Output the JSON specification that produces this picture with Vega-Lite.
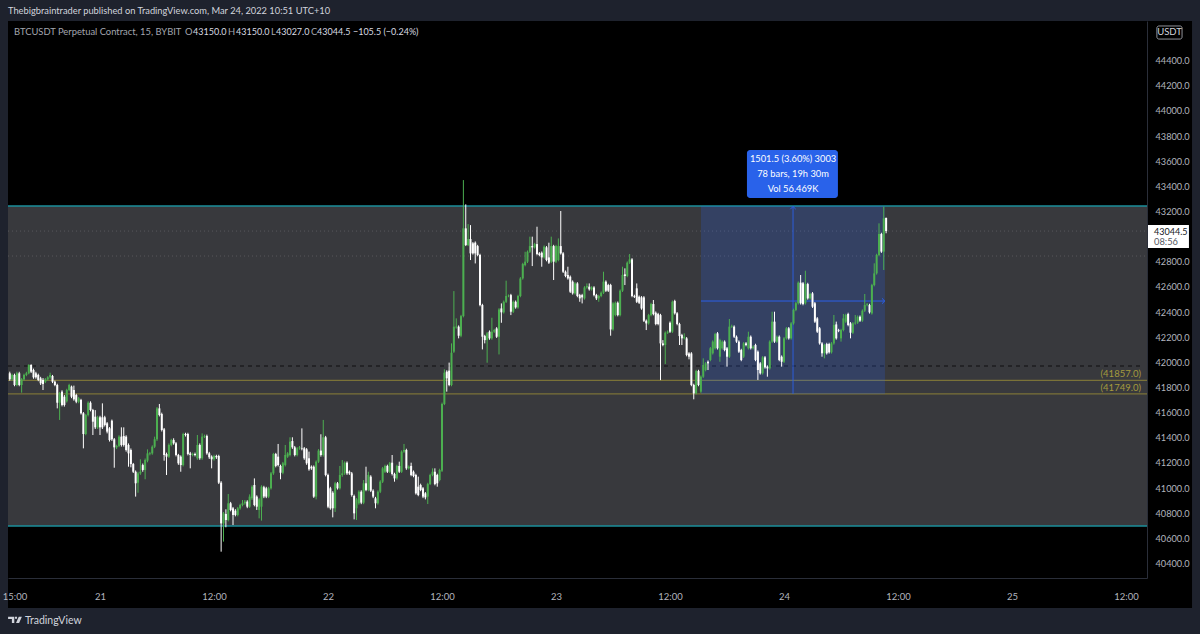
{
  "$schema": "https://vega.github.io/schema/vega-lite/v6.json",
  "width": 1139,
  "height": 557,
  "autosize": "none",
  "padding": {"left": 8, "top": 21, "right": 53, "bottom": 56},
  "background": "#1e222d",
  "title": {"text": "Thebigbraintrader published on TradingView.com, Mar 24, 2022 10:51 UTC+10", "anchor": "start", "frame": "group", "offset": 5, "fontSize": 9.3, "fontWeight": "normal", "color": "#d1d4dc"},
  "config": {"font": "Lato", "view": {"stroke": null}},
  "datasets": {
    "candles": [
      {"i":-38,"o":41913,"h":41926,"l":41854,"c":41865},{"i":-37,"o":41865,"h":41910,"l":41855,"c":41900},{"i":-36,"o":41900,"h":41910,"l":41810,"c":41820},{"i":-35,"o":41820,"h":41926,"l":41810,"c":41913},
      {"i":-34,"o":41913,"h":41925,"l":41810,"c":41820},{"i":-33,"o":41820,"h":41875,"l":41759,"c":41865},{"i":-32,"o":41865,"h":41910,"l":41855,"c":41900},{"i":-31,"o":41900,"h":41925,"l":41890,"c":41913},
      {"i":-30,"o":41913,"h":41985,"l":41905,"c":41979},{"i":-29,"o":41979,"h":41985,"l":41915,"c":41926},{"i":-28,"o":41939,"h":41950,"l":41870,"c":41881},{"i":-27,"o":41913,"h":41925,"l":41870,"c":41881},
      {"i":-26,"o":41900,"h":41910,"l":41850,"c":41860},{"i":-25,"o":41873,"h":41885,"l":41820,"c":41833},{"i":-24,"o":41860,"h":41875,"l":41780,"c":41828},{"i":-23,"o":41846,"h":41875,"l":41835,"c":41865},
      {"i":-22,"o":41865,"h":41890,"l":41855,"c":41881},{"i":-21,"o":41881,"h":41918,"l":41870,"c":41900},{"i":-20,"o":41892,"h":41900,"l":41835,"c":41846},{"i":-19,"o":41846,"h":41855,"l":41810,"c":41820},
      {"i":-18,"o":41820,"h":41830,"l":41634,"c":41679},{"i":-17,"o":41679,"h":41765,"l":41542,"c":41754},{"i":-16,"o":41767,"h":41778,"l":41650,"c":41661},{"i":-15,"o":41727,"h":41740,"l":41648,"c":41661},
      {"i":-14,"o":41690,"h":41790,"l":41680,"c":41780},{"i":-13,"o":41780,"h":41830,"l":41770,"c":41820},{"i":-12,"o":41807,"h":41815,"l":41715,"c":41727},{"i":-11,"o":41780,"h":41815,"l":41695,"c":41706},
      {"i":-10,"o":41740,"h":41750,"l":41675,"c":41687},{"i":-9,"o":41687,"h":41725,"l":41675,"c":41714},{"i":-8,"o":41701,"h":41710,"l":41585,"c":41595},{"i":-7,"o":41595,"h":41605,"l":41316,"c":41430},
      {"i":-6,"o":41430,"h":41590,"l":41420,"c":41581},{"i":-5,"o":41581,"h":41690,"l":41570,"c":41679},{"i":-4,"o":41679,"h":41690,"l":41610,"c":41621},{"i":-3,"o":41621,"h":41630,"l":41422,"c":41528},
      {"i":-2,"o":41568,"h":41620,"l":41470,"c":41483},{"i":-1,"o":41483,"h":41575,"l":41470,"c":41563},{"i":0,"o":41563,"h":41575,"l":41422,"c":41483},{"i":1,"o":41563,"h":41674,"l":41470,"c":41483},
      {"i":2,"o":41563,"h":41575,"l":41490,"c":41502},{"i":3,"o":41515,"h":41525,"l":41435,"c":41449},{"i":4,"o":41475,"h":41485,"l":41370,"c":41382},{"i":5,"o":41536,"h":41545,"l":41375,"c":41388},
      {"i":6,"o":41388,"h":41398,"l":41162,"c":41324},{"i":7,"o":41324,"h":41345,"l":41310,"c":41335},{"i":8,"o":41335,"h":41420,"l":41325,"c":41409},{"i":9,"o":41409,"h":41483,"l":41330,"c":41343},
      {"i":10,"o":41414,"h":41483,"l":41330,"c":41343},{"i":11,"o":41409,"h":41420,"l":41290,"c":41303},{"i":12,"o":41343,"h":41355,"l":41170,"c":41276},{"i":13,"o":41303,"h":41315,"l":41165,"c":41191},
      {"i":14,"o":41191,"h":41200,"l":41120,"c":41130},{"i":15,"o":41130,"h":41140,"l":40932,"c":41038},{"i":16,"o":41043,"h":41130,"l":40963,"c":41117},{"i":17,"o":41117,"h":41229,"l":41105,"c":41130},
      {"i":18,"o":41183,"h":41195,"l":41130,"c":41144},{"i":19,"o":41144,"h":41235,"l":41070,"c":41223},{"i":20,"o":41218,"h":41308,"l":41205,"c":41276},{"i":21,"o":41271,"h":41288,"l":41260,"c":41276},
      {"i":22,"o":41276,"h":41340,"l":41265,"c":41329},{"i":23,"o":41329,"h":41409,"l":41318,"c":41388},{"i":24,"o":41388,"h":41645,"l":41375,"c":41634},{"i":25,"o":41634,"h":41669,"l":41570,"c":41581},
      {"i":26,"o":41589,"h":41600,"l":41450,"c":41462},{"i":27,"o":41467,"h":41478,"l":41218,"c":41263},{"i":28,"o":41271,"h":41282,"l":41104,"c":41250},{"i":29,"o":41250,"h":41355,"l":41240,"c":41343},
      {"i":30,"o":41343,"h":41392,"l":41332,"c":41382},{"i":31,"o":41382,"h":41396,"l":41345,"c":41356},{"i":32,"o":41356,"h":41366,"l":41252,"c":41263},{"i":33,"o":41263,"h":41272,"l":41185,"c":41197},
      {"i":34,"o":41250,"h":41260,"l":41130,"c":41183},{"i":35,"o":41183,"h":41440,"l":41172,"c":41430},{"i":36,"o":41430,"h":41440,"l":41410,"c":41422},{"i":37,"o":41430,"h":41440,"l":41260,"c":41271},
      {"i":38,"o":41276,"h":41288,"l":41157,"c":41263},{"i":39,"o":41263,"h":41282,"l":41252,"c":41271},{"i":40,"o":41271,"h":41282,"l":41252,"c":41263},{"i":41,"o":41237,"h":41422,"l":41225,"c":41343},
      {"i":42,"o":41343,"h":41355,"l":41225,"c":41237},{"i":43,"o":41237,"h":41435,"l":41225,"c":41409},{"i":44,"o":41409,"h":41425,"l":41398,"c":41414},{"i":45,"o":41414,"h":41425,"l":41265,"c":41276},
      {"i":46,"o":41276,"h":41288,"l":41232,"c":41245},{"i":47,"o":41250,"h":41260,"l":41157,"c":41229},{"i":48,"o":41229,"h":41265,"l":41218,"c":41255},{"i":49,"o":41255,"h":41265,"l":41232,"c":41245},
      {"i":50,"o":41255,"h":41265,"l":41032,"c":41043},{"i":51,"o":41043,"h":41055,"l":40494,"c":40719},{"i":52,"o":40719,"h":40810,"l":40574,"c":40799},{"i":53,"o":40794,"h":40831,"l":40688,"c":40746},
      {"i":54,"o":40746,"h":40953,"l":40735,"c":40879},{"i":55,"o":40879,"h":40890,"l":40815,"c":40826},{"i":56,"o":40839,"h":40850,"l":40706,"c":40786},{"i":57,"o":40820,"h":40832,"l":40775,"c":40786},
      {"i":58,"o":40786,"h":40850,"l":40775,"c":40839},{"i":59,"o":40839,"h":40875,"l":40828,"c":40865},{"i":60,"o":40865,"h":40905,"l":40855,"c":40879},{"i":61,"o":40879,"h":40905,"l":40868,"c":40892},
      {"i":62,"o":40892,"h":40903,"l":40840,"c":40852},{"i":63,"o":40852,"h":40950,"l":40842,"c":40932},{"i":64,"o":40918,"h":41022,"l":40905,"c":41011},{"i":65,"o":41024,"h":41077,"l":40855,"c":40865},
      {"i":66,"o":40932,"h":40942,"l":40826,"c":40852},{"i":67,"o":40826,"h":40920,"l":40759,"c":40910},{"i":68,"o":40852,"h":41022,"l":40741,"c":41011},{"i":69,"o":41006,"h":41018,"l":40920,"c":40932},
      {"i":70,"o":40998,"h":41010,"l":40920,"c":40932},{"i":71,"o":40932,"h":41010,"l":40920,"c":40998},{"i":72,"o":40998,"h":41128,"l":40988,"c":41117},{"i":73,"o":41117,"h":41280,"l":41105,"c":41271},
      {"i":74,"o":41271,"h":41280,"l":41165,"c":41176},{"i":75,"o":41250,"h":41351,"l":41172,"c":41183},{"i":76,"o":41176,"h":41186,"l":41070,"c":41122},{"i":77,"o":41122,"h":41208,"l":41110,"c":41197},
      {"i":78,"o":41183,"h":41343,"l":41172,"c":41263},{"i":79,"o":41250,"h":41286,"l":41240,"c":41276},{"i":80,"o":41263,"h":41404,"l":41252,"c":41369},{"i":81,"o":41374,"h":41404,"l":41312,"c":41324},
      {"i":82,"o":41324,"h":41335,"l":41252,"c":41263},{"i":83,"o":41263,"h":41326,"l":41252,"c":41316},{"i":84,"o":41316,"h":41335,"l":41305,"c":41324},{"i":85,"o":41316,"h":41475,"l":41300,"c":41312},
      {"i":86,"o":41316,"h":41326,"l":41225,"c":41237},{"i":87,"o":41308,"h":41318,"l":41185,"c":41197},{"i":88,"o":41237,"h":41290,"l":41138,"c":41149},{"i":89,"o":41170,"h":41180,"l":41145,"c":41157},
      {"i":90,"o":41170,"h":41180,"l":40922,"c":40932},{"i":91,"o":40932,"h":41220,"l":40910,"c":41210},{"i":92,"o":41210,"h":41310,"l":41200,"c":41298},{"i":93,"o":41298,"h":41428,"l":41250,"c":41263},
      {"i":94,"o":41263,"h":41542,"l":41250,"c":41404},{"i":95,"o":41404,"h":41415,"l":41093,"c":41104},{"i":96,"o":41104,"h":41115,"l":40840,"c":40852},{"i":97,"o":40998,"h":41010,"l":40828,"c":40839},
      {"i":98,"o":40963,"h":40975,"l":40767,"c":40839},{"i":99,"o":40839,"h":41050,"l":40810,"c":41038},{"i":100,"o":41038,"h":41048,"l":40988,"c":40998},{"i":101,"o":40998,"h":41176,"l":40988,"c":41104},
      {"i":102,"o":41104,"h":41223,"l":41090,"c":41117},{"i":103,"o":41117,"h":41212,"l":41105,"c":41202},{"i":104,"o":41202,"h":41212,"l":41105,"c":41117},{"i":105,"o":41130,"h":41140,"l":41105,"c":41117},
      {"i":106,"o":41117,"h":41128,"l":40932,"c":40945},{"i":107,"o":40937,"h":40948,"l":40751,"c":40799},{"i":108,"o":40839,"h":40920,"l":40746,"c":40910},{"i":109,"o":40879,"h":40982,"l":40868,"c":40971},
      {"i":110,"o":40971,"h":40982,"l":40872,"c":40884},{"i":111,"o":40884,"h":41064,"l":40872,"c":41038},{"i":112,"o":41038,"h":41170,"l":40975,"c":40985},{"i":113,"o":40985,"h":41130,"l":40975,"c":41104},
      {"i":114,"o":41091,"h":41102,"l":40968,"c":40979},{"i":115,"o":40979,"h":40990,"l":40920,"c":40932},{"i":116,"o":40918,"h":40930,"l":40839,"c":40879},{"i":117,"o":40879,"h":40982,"l":40868,"c":40971},
      {"i":118,"o":40971,"h":41062,"l":40960,"c":41051},{"i":119,"o":41051,"h":41168,"l":41040,"c":41157},{"i":120,"o":41130,"h":41186,"l":41120,"c":41176},{"i":121,"o":41176,"h":41186,"l":41120,"c":41130},
      {"i":122,"o":41130,"h":41208,"l":41120,"c":41197},{"i":123,"o":41202,"h":41263,"l":41100,"c":41112},{"i":124,"o":41112,"h":41122,"l":41051,"c":41077},{"i":125,"o":41077,"h":41186,"l":41066,"c":41176},
      {"i":126,"o":41176,"h":41210,"l":41120,"c":41130},{"i":127,"o":41130,"h":41300,"l":41120,"c":41290},{"i":128,"o":41290,"h":41351,"l":41280,"c":41303},{"i":129,"o":41303,"h":41313,"l":41145,"c":41157},
      {"i":130,"o":41157,"h":41180,"l":41147,"c":41170},{"i":131,"o":41176,"h":41202,"l":41094,"c":41104},{"i":132,"o":41130,"h":41140,"l":41086,"c":41096},{"i":133,"o":41104,"h":41114,"l":40948,"c":40958},
      {"i":134,"o":41011,"h":41091,"l":40935,"c":40945},{"i":135,"o":41024,"h":41035,"l":40975,"c":40985},{"i":136,"o":40998,"h":41008,"l":40920,"c":40932},{"i":137,"o":40958,"h":40968,"l":40910,"c":40926},
      {"i":138,"o":40932,"h":41042,"l":40873,"c":41032},{"i":139,"o":41032,"h":41114,"l":41024,"c":41104},{"i":140,"o":41104,"h":41157,"l":41094,"c":41130},{"i":141,"o":41130,"h":41157,"l":41022,"c":41032},
      {"i":142,"o":41104,"h":41114,"l":41011,"c":41038},{"i":143,"o":41064,"h":41154,"l":41054,"c":41144},{"i":144,"o":41138,"h":41680,"l":41128,"c":41669},{"i":145,"o":41669,"h":41945,"l":41660,"c":41918},
      {"i":146,"o":41926,"h":41937,"l":41767,"c":41873},{"i":147,"o":41934,"h":41998,"l":41810,"c":41820},{"i":148,"o":41820,"h":42151,"l":41810,"c":42077},{"i":149,"o":42085,"h":42567,"l":42075,"c":42284},
      {"i":150,"o":42278,"h":42350,"l":42268,"c":42284},{"i":151,"o":42284,"h":42294,"l":42191,"c":42212},{"i":152,"o":42212,"h":42378,"l":42200,"c":42368},{"i":153,"o":42368,"h":43450,"l":42358,"c":43066},
      {"i":154,"o":43066,"h":43257,"l":42925,"c":42933},{"i":155,"o":42933,"h":43100,"l":42925,"c":42981},{"i":156,"o":42981,"h":43092,"l":42814,"c":42867},{"i":157,"o":42947,"h":42957,"l":42857,"c":42867},
      {"i":158,"o":42952,"h":42962,"l":42787,"c":42867},{"i":159,"o":42925,"h":42935,"l":42844,"c":42854},{"i":160,"o":42854,"h":42864,"l":42446,"c":42456},{"i":161,"o":42456,"h":42466,"l":42103,"c":42204},
      {"i":162,"o":42209,"h":42219,"l":42151,"c":42177},{"i":163,"o":42177,"h":42241,"l":41997,"c":42231},{"i":164,"o":42244,"h":42254,"l":42180,"c":42191},{"i":165,"o":42191,"h":42355,"l":42180,"c":42244},
      {"i":166,"o":42244,"h":42267,"l":42234,"c":42257},{"i":167,"o":42270,"h":42280,"l":42194,"c":42204},{"i":168,"o":42204,"h":42431,"l":42063,"c":42421},{"i":169,"o":42429,"h":42469,"l":42315,"c":42398},
      {"i":170,"o":42398,"h":42492,"l":42388,"c":42482},{"i":171,"o":42482,"h":42650,"l":42472,"c":42528},{"i":172,"o":42528,"h":42540,"l":42518,"c":42530},{"i":173,"o":42535,"h":42545,"l":42376,"c":42403},
      {"i":174,"o":42403,"h":42492,"l":42393,"c":42482},{"i":175,"o":42482,"h":42492,"l":42427,"c":42437},{"i":176,"o":42437,"h":42538,"l":42427,"c":42528},{"i":177,"o":42528,"h":42678,"l":42518,"c":42668},
      {"i":178,"o":42668,"h":42792,"l":42658,"c":42782},{"i":179,"o":42774,"h":42880,"l":42764,"c":42801},{"i":180,"o":42801,"h":42890,"l":42790,"c":42880},{"i":181,"o":42880,"h":43000,"l":42870,"c":42925},
      {"i":182,"o":42925,"h":43000,"l":42766,"c":42915},{"i":183,"o":42915,"h":42951,"l":42905,"c":42941},{"i":184,"o":42941,"h":43079,"l":42852,"c":42862},{"i":185,"o":42867,"h":42877,"l":42844,"c":42854},
      {"i":186,"o":42872,"h":42882,"l":42761,"c":42835},{"i":187,"o":42835,"h":42930,"l":42825,"c":42920},{"i":188,"o":42915,"h":42925,"l":42804,"c":42814},{"i":189,"o":42835,"h":42952,"l":42783,"c":42793},
      {"i":190,"o":42801,"h":43000,"l":42790,"c":42925},{"i":191,"o":42925,"h":42935,"l":42655,"c":42801},{"i":192,"o":42801,"h":42935,"l":42790,"c":42925},{"i":193,"o":42814,"h":42986,"l":42804,"c":42925},
      {"i":194,"o":42925,"h":43204,"l":42857,"c":42867},{"i":195,"o":42867,"h":42877,"l":42711,"c":42721},{"i":196,"o":42721,"h":42731,"l":42677,"c":42687},{"i":197,"o":42695,"h":42761,"l":42658,"c":42668},
      {"i":198,"o":42681,"h":42691,"l":42552,"c":42562},{"i":199,"o":42642,"h":42652,"l":42539,"c":42549},{"i":200,"o":42549,"h":42638,"l":42539,"c":42628},{"i":201,"o":42628,"h":42638,"l":42518,"c":42528},
      {"i":202,"o":42535,"h":42545,"l":42482,"c":42509},{"i":203,"o":42535,"h":42545,"l":42469,"c":42517},{"i":204,"o":42509,"h":42606,"l":42499,"c":42596},{"i":205,"o":42596,"h":42628,"l":42586,"c":42607},
      {"i":206,"o":42602,"h":42628,"l":42571,"c":42581},{"i":207,"o":42581,"h":42606,"l":42571,"c":42596},{"i":208,"o":42596,"h":42606,"l":42525,"c":42535},{"i":209,"o":42535,"h":42545,"l":42496,"c":42509},
      {"i":210,"o":42509,"h":42538,"l":42482,"c":42528},{"i":211,"o":42528,"h":42564,"l":42518,"c":42554},{"i":212,"o":42554,"h":42721,"l":42544,"c":42642},{"i":213,"o":42642,"h":42652,"l":42560,"c":42570},
      {"i":214,"o":42615,"h":42625,"l":42560,"c":42570},{"i":215,"o":42615,"h":42625,"l":42212,"c":42262},{"i":216,"o":42262,"h":42479,"l":42252,"c":42469},{"i":217,"o":42376,"h":42484,"l":42366,"c":42474},
      {"i":218,"o":42474,"h":42484,"l":42366,"c":42376},{"i":219,"o":42376,"h":42580,"l":42366,"c":42570},{"i":220,"o":42570,"h":42761,"l":42560,"c":42695},{"i":221,"o":42700,"h":42748,"l":42615,"c":42687},
      {"i":222,"o":42687,"h":42803,"l":42677,"c":42793},{"i":223,"o":42793,"h":42862,"l":42783,"c":42819},{"i":224,"o":42819,"h":42829,"l":42518,"c":42528},{"i":225,"o":42528,"h":42538,"l":42512,"c":42522},
      {"i":226,"o":42589,"h":42628,"l":42472,"c":42482},{"i":227,"o":42522,"h":42532,"l":42464,"c":42474},{"i":228,"o":42517,"h":42527,"l":42419,"c":42429},{"i":229,"o":42517,"h":42527,"l":42321,"c":42331},
      {"i":230,"o":42331,"h":42341,"l":42257,"c":42310},{"i":231,"o":42310,"h":42386,"l":42300,"c":42376},{"i":232,"o":42376,"h":42474,"l":42366,"c":42464},{"i":233,"o":42464,"h":42496,"l":42374,"c":42384},
      {"i":234,"o":42395,"h":42405,"l":42295,"c":42305},{"i":235,"o":42384,"h":42394,"l":42295,"c":42305},{"i":236,"o":42376,"h":42386,"l":41859,"c":42151},{"i":237,"o":42151,"h":42177,"l":42128,"c":42138},
      {"i":238,"o":42138,"h":42246,"l":41987,"c":42236},{"i":239,"o":42236,"h":42254,"l":42226,"c":42244},{"i":240,"o":42315,"h":42325,"l":42234,"c":42244},{"i":241,"o":42244,"h":42492,"l":42234,"c":42482},
      {"i":242,"o":42488,"h":42498,"l":42380,"c":42390},{"i":243,"o":42390,"h":42400,"l":42295,"c":42305},{"i":244,"o":42305,"h":42315,"l":42138,"c":42209},{"i":245,"o":42217,"h":42227,"l":42138,"c":42191},
      {"i":246,"o":42191,"h":42231,"l":42181,"c":42204},{"i":247,"o":42191,"h":42201,"l":42048,"c":42058},{"i":248,"o":42071,"h":42081,"l":42024,"c":42045},{"i":249,"o":42071,"h":42081,"l":41810,"c":41820},
      {"i":250,"o":41820,"h":41830,"l":41706,"c":41753},{"i":251,"o":41753,"h":41941,"l":41745,"c":41931},{"i":252,"o":41931,"h":41941,"l":41810,"c":41820},{"i":253,"o":41767,"h":41896,"l":41757,"c":41886},
      {"i":254,"o":41886,"h":42032,"l":41876,"c":41979},{"i":255,"o":41939,"h":42002,"l":41929,"c":41992},{"i":256,"o":42005,"h":42015,"l":41939,"c":41992},{"i":257,"o":42019,"h":42122,"l":42009,"c":42112},
      {"i":258,"o":42072,"h":42175,"l":42062,"c":42165},{"i":259,"o":42112,"h":42235,"l":42102,"c":42225},{"i":260,"o":42231,"h":42241,"l":42102,"c":42112},{"i":261,"o":42045,"h":42188,"l":42005,"c":42178},
      {"i":262,"o":42112,"h":42175,"l":42102,"c":42165},{"i":263,"o":42165,"h":42175,"l":42088,"c":42098},{"i":264,"o":42112,"h":42122,"l":41966,"c":42045},{"i":265,"o":42045,"h":42345,"l":42035,"c":42284},
      {"i":266,"o":42284,"h":42300,"l":42274,"c":42289},{"i":267,"o":42284,"h":42294,"l":42194,"c":42204},{"i":268,"o":42204,"h":42214,"l":42155,"c":42165},{"i":269,"o":42165,"h":42175,"l":42075,"c":42085},
      {"i":270,"o":42098,"h":42108,"l":42009,"c":42019},{"i":271,"o":42045,"h":42161,"l":42035,"c":42151},{"i":272,"o":42151,"h":42161,"l":42128,"c":42138},{"i":273,"o":42112,"h":42244,"l":42102,"c":42204},
      {"i":274,"o":42204,"h":42214,"l":42102,"c":42112},{"i":275,"o":42112,"h":42135,"l":42102,"c":42125},{"i":276,"o":42138,"h":42148,"l":42009,"c":42019},{"i":277,"o":42085,"h":42095,"l":41860,"c":41939},
      {"i":278,"o":41992,"h":42002,"l":41903,"c":41913},{"i":279,"o":41913,"h":42050,"l":41903,"c":42040},{"i":280,"o":42040,"h":42050,"l":41950,"c":41960},{"i":281,"o":41966,"h":41976,"l":41886,"c":41952},
      {"i":282,"o":41952,"h":42175,"l":41942,"c":42165},{"i":283,"o":42165,"h":42403,"l":42155,"c":42324},{"i":284,"o":42324,"h":42403,"l":42155,"c":42165},{"i":285,"o":42165,"h":42214,"l":42155,"c":42204},
      {"i":286,"o":42204,"h":42214,"l":42009,"c":42019},{"i":287,"o":42045,"h":42055,"l":41966,"c":42005},{"i":288,"o":42005,"h":42201,"l":41995,"c":42191},{"i":289,"o":42191,"h":42281,"l":42181,"c":42271},
      {"i":290,"o":42271,"h":42281,"l":42181,"c":42191},{"i":291,"o":42191,"h":42320,"l":42181,"c":42310},{"i":292,"o":42310,"h":42427,"l":42300,"c":42417},{"i":293,"o":42417,"h":42480,"l":42407,"c":42470},
      {"i":294,"o":42470,"h":42644,"l":42460,"c":42634},{"i":295,"o":42634,"h":42695,"l":42460,"c":42470},{"i":296,"o":42629,"h":42639,"l":42454,"c":42464},{"i":297,"o":42470,"h":42729,"l":42460,"c":42623},
      {"i":298,"o":42623,"h":42633,"l":42499,"c":42509},{"i":299,"o":42509,"h":42554,"l":42499,"c":42544},{"i":300,"o":42549,"h":42559,"l":42433,"c":42443},{"i":301,"o":42470,"h":42480,"l":42314,"c":42324},
      {"i":302,"o":42350,"h":42360,"l":42234,"c":42244},{"i":303,"o":42271,"h":42281,"l":42141,"c":42151},{"i":304,"o":42151,"h":42161,"l":42045,"c":42072},{"i":305,"o":42072,"h":42148,"l":42032,"c":42138},
      {"i":306,"o":42146,"h":42156,"l":42062,"c":42072},{"i":307,"o":42146,"h":42156,"l":42070,"c":42080},{"i":308,"o":42080,"h":42161,"l":42070,"c":42151},{"i":309,"o":42151,"h":42377,"l":42141,"c":42297},
      {"i":310,"o":42302,"h":42324,"l":42181,"c":42191},{"i":311,"o":42257,"h":42267,"l":42240,"c":42252},{"i":312,"o":42191,"h":42267,"l":42165,"c":42257},{"i":313,"o":42257,"h":42385,"l":42247,"c":42350},
      {"i":314,"o":42324,"h":42387,"l":42314,"c":42377},{"i":315,"o":42385,"h":42395,"l":42287,"c":42297},{"i":316,"o":42310,"h":42320,"l":42191,"c":42236},{"i":317,"o":42236,"h":42320,"l":42226,"c":42310},
      {"i":318,"o":42310,"h":42377,"l":42300,"c":42316},{"i":319,"o":42316,"h":42373,"l":42306,"c":42363},{"i":320,"o":42363,"h":42373,"l":42322,"c":42332},{"i":321,"o":42332,"h":42421,"l":42322,"c":42411},
      {"i":322,"o":42411,"h":42544,"l":42401,"c":42456},{"i":323,"o":42456,"h":42472,"l":42446,"c":42462},{"i":324,"o":42456,"h":42466,"l":42388,"c":42398},{"i":325,"o":42390,"h":42625,"l":42380,"c":42615},
      {"i":326,"o":42615,"h":42788,"l":42605,"c":42708},{"i":327,"o":42708,"h":42864,"l":42698,"c":42854},{"i":328,"o":42854,"h":43106,"l":42844,"c":43021},{"i":329,"o":43021,"h":43031,"l":42871,"c":42881},
      {"i":330,"o":42881,"h":43239,"l":42735,"c":43146},{"i":331,"o":43150,"h":43150,"l":43027,"c":43044.5}
    ],
    "panels": [
      {"name": "panel", "i": -38.74, "i1": 459.8, "p": 44715.6, "p1": 40046},
      {"name": "range", "i": -38.74, "i1": 440.84, "p": 43244, "p1": 40698}
    ],
    "levels": [
      {"name": "range", "i": -38.74, "i1": 440.84, "p": 43244},
      {"name": "range", "i": -38.74, "i1": 440.84, "p": 40698},
      {"name": "fib", "i": -38.74, "i1": 440.84, "p": 41857},
      {"name": "fib", "i": -38.74, "i1": 440.84, "p": 41749},
      {"name": "mid", "i": -38.74, "i1": 438, "p": 41971},
      {"name": "last", "i": -38.74, "i1": 440.84, "p": 43044.5},
      {"name": "prior", "i": -38.74, "i1": 440.84, "p": 42846}
    ],
    "measure": [{"i": 253.05, "i1": 330.5, "p": 43244, "p1": 41749}],
    "measureMid": [{"i": 253.05, "i1": 330.5, "p": 42488}],
    "measureCross": [{"i": 291.8, "p": 43244, "p1": 41749}],
    "arrows": [
      {"dir": "up", "i": 291.8, "p": 43240},
      {"dir": "right", "i": 330.4, "p": 42488}
    ],
    "tooltip": [{"i": 272.4, "i1": 310.7, "p": 43689, "p1": 43307}],
    "tooltipText": [
      {"i": 291.8, "p": 43618, "text": "1501.5 (3.60%) 3003"},
      {"i": 291.8, "p": 43498, "text": "78 bars, 19h 30m"},
      {"i": 291.8, "p": 43379, "text": "Vol 56.469K"}
    ],
    "notes": [
      {"kind": "muted", "i": -36.2, "p": 44632, "text": "BTCUSDT Perpetual Contract, 15, BYBIT"},
      {"kind": "muted", "i": 35.8, "p": 44632, "text": "O"},
      {"kind": "bright", "i": 39.2, "p": 44632, "text": "43150.0"},
      {"kind": "muted", "i": 53.9, "p": 44632, "text": "H"},
      {"kind": "bright", "i": 57.3, "p": 44632, "text": "43150.0"},
      {"kind": "muted", "i": 72, "p": 44632, "text": "L"},
      {"kind": "bright", "i": 74.1, "p": 44632, "text": "43027.0"},
      {"kind": "muted", "i": 88.8, "p": 44632, "text": "C"},
      {"kind": "bright", "i": 91.4, "p": 44632, "text": "43044.5"},
      {"kind": "bright", "i": 106.5, "p": 44632, "text": "−105.5 (−0.24%)"},
      {"kind": "tag", "i": 443.8, "p": 43037, "text": "43044.5"},
      {"kind": "count", "i": 443.8, "p": 42957, "text": "08:56"},
      {"kind": "brand", "i": -31.6, "p": 39943, "text": "TradingView"}
    ],
    "levelText": [
      {"i": 438.3, "p": 41907, "text": "(41857.0)"},
      {"i": 438.3, "p": 41796, "text": "(41749.0)"}
    ],
    "unit": [{"i": 450.3, "p": 44628, "text": "USDT", "i1": 445, "i2": 455.6, "p1": 44676, "p2": 44572}],
    "lastTag": [{"i": 440.84, "i1": 458.5, "p": 43093, "p1": 42910}],
    "logo": [{"i": -35.8, "p": 39955}]
  },
  "encoding": {
    "x": {
      "field": "i", "type": "quantitative", "title": null,
      "scale": {"domain": [-38.74, 440.84], "nice": false, "zero": false, "padding": 0},
      "axis": {
        "values": [-36, 0, 48, 96, 144, 192, 240, 288, 336, 384, 432],
        "labelExpr": "datum.value < 0 ? '15:00' : datum.value % 96 == 0 ? '' + (21 + datum.value / 96) : '12:00'",
        "ticks": false, "grid": false, "domainColor": "#2a2e39", "labelColor": "#b2b5be",
        "labelFontSize": 9.5, "labelPadding": 13, "zindex": 1, "labelFlush": false, "labelOverlap": false
      }
    },
    "y": {
      "field": "p", "type": "quantitative", "title": null,
      "scale": {"domain": [40284.6, 44715.6], "nice": false, "zero": false},
      "axis": {
        "orient": "right",
        "values": [40400, 40600, 40800, 41000, 41200, 41400, 41600, 41800, 42000, 42200, 42400, 42600, 42800, 43200, 43400, 43600, 43800, 44000, 44200, 44400],
        "format": ".1f",
        "ticks": false, "grid": false, "domainColor": "#2a2e39", "labelColor": "#b2b5be",
        "labelFontSize": 9.2, "labelPadding": 8, "zindex": 1, "labelOverlap": false
      }
    }
  },
  "resolve": {"scale": {"color": "independent"}},
  "layer": [
    {
      "data": {"name": "panels"},
      "mark": {"type": "rect", "clip": false},
      "encoding": {
        "x2": {"field": "i1"}, "y2": {"field": "p1"},
        "color": {"field": "name", "scale": {"domain": ["panel", "range"], "range": ["#000000", "#38393d"]}, "legend": null}
      }
    },
    {
      "data": {"name": "levels"},
      "mark": {"type": "rule"},
      "encoding": {
        "x2": {"field": "i1"},
        "color": {"field": "name", "scale": {"domain": ["range", "fib", "mid", "last", "prior"], "range": ["#1b8f9b", "#7a7238", "#0f0f10", "#57585c", "#57585c"]}, "legend": null},
        "strokeWidth": {"field": "name", "scale": {"type": "ordinal", "domain": ["range", "fib", "mid", "last", "prior"], "range": [1.4, 1.2, 1, 1, 1]}, "legend": null},
        "strokeDash": {"field": "name", "scale": {"domain": ["range", "fib", "mid", "last", "prior"], "range": [[1, 0], [1, 0], [4, 4], [1, 3], [1, 3]]}, "legend": null}
      }
    },
    {
      "data": {"name": "measure"},
      "mark": {"type": "rect", "color": "#2962ff", "opacity": 0.2},
      "encoding": {"x2": {"field": "i1"}, "y2": {"field": "p1"}}
    },
    {
      "data": {"name": "measureMid"},
      "mark": {"type": "rule", "color": "#2b5fe8", "strokeWidth": 1},
      "encoding": {"x2": {"field": "i1"}}
    },
    {
      "data": {"name": "measureCross"},
      "mark": {"type": "rule", "color": "#2b5fe8", "strokeWidth": 0.9},
      "encoding": {"y2": {"field": "p1"}}
    },
    {
      "data": {"name": "arrows"},
      "mark": {"type": "point", "filled": false, "color": "#2b5fe8", "strokeWidth": 1, "opacity": 1, "size": 30},
      "encoding": {
        "shape": {"field": "dir", "scale": {"domain": ["up", "right"], "range": ["M-1,1L0,0L1,1", "M-1,-1L0,0L-1,1"]}, "legend": null}
      }
    },
    {
      "data": {"name": "candles"},
      "mark": {"type": "rule", "strokeWidth": 1},
      "encoding": {
        "y": {"field": "l", "type": "quantitative", "title": null},
        "y2": {"field": "h"},
        "color": {"condition": {"test": "datum.c >= datum.o", "value": "#4caf50"}, "value": "#ffffff"}
      }
    },
    {
      "data": {"name": "candles"},
      "mark": {"type": "bar", "width": 2},
      "encoding": {
        "y": {"field": "o", "type": "quantitative", "title": null},
        "y2": {"field": "c"},
        "color": {"condition": {"test": "datum.c >= datum.o", "value": "#4caf50"}, "value": "#ffffff"}
      }
    },
    {
      "data": {"name": "tooltip"},
      "mark": {"type": "rect", "color": "#2962ea", "cornerRadius": 3},
      "encoding": {"x2": {"field": "i1"}, "y2": {"field": "p1"}}
    },
    {
      "data": {"name": "tooltipText"},
      "mark": {"type": "text", "color": "#ffffff", "fontSize": 9.3, "align": "center", "baseline": "middle"},
      "encoding": {"text": {"field": "text"}}
    },
    {
      "data": {"name": "levelText"},
      "mark": {"type": "text", "color": "#a59a3e", "fontSize": 9.5, "align": "right", "baseline": "middle"},
      "encoding": {"text": {"field": "text"}}
    },
    {
      "data": {"name": "lastTag"},
      "mark": {"type": "rect", "color": "#ffffff", "clip": false},
      "encoding": {"x2": {"field": "i1"}, "y2": {"field": "p1"}}
    },
    {
      "data": {"name": "unit"},
      "mark": {"type": "rect", "filled": false, "stroke": "#b2b5be", "strokeWidth": 0.8, "cornerRadius": 2, "clip": false},
      "encoding": {
        "x": {"field": "i1", "type": "quantitative", "title": null},
        "x2": {"field": "i2"},
        "y": {"field": "p1", "type": "quantitative", "title": null},
        "y2": {"field": "p2"}
      }
    },
    {
      "data": {"name": "unit"},
      "mark": {"type": "text", "color": "#d1d4dc", "fontSize": 9.5, "align": "center", "baseline": "middle"},
      "encoding": {"text": {"field": "text"}}
    },
    {
      "data": {"name": "notes"},
      "mark": {"type": "text", "fontSize": 10, "align": "left", "baseline": "middle"},
      "encoding": {
        "text": {"field": "text"},
        "color": {"field": "kind", "scale": {"domain": ["muted", "bright", "tag", "count", "brand"], "range": ["#a3a6af", "#d8dae0", "#131722", "#555861", "#d1d4dc"]}, "legend": null},
        "size": {"field": "kind", "scale": {"type": "ordinal", "domain": ["muted", "bright", "tag", "count", "brand"], "range": [9.4, 9, 9, 9.3, 10.5]}, "legend": null}
      }
    },
    {
      "data": {"name": "logo"},
      "mark": {"type": "point", "filled": true, "color": "#d1d4dc", "opacity": 1, "size": 190},
      "encoding": {
        "shape": {"value": "M-1,-0.4L-0.1,-0.4L-0.1,0.5L-0.45,0.5L-0.45,-0.05L-1,-0.05ZM0,-0.4L0.3,-0.4L0.3,-0.1L0,-0.1ZM0.15,0.5L0.55,-0.4L1,-0.4L0.6,0.5Z"}
      }
    }
  ]
}
